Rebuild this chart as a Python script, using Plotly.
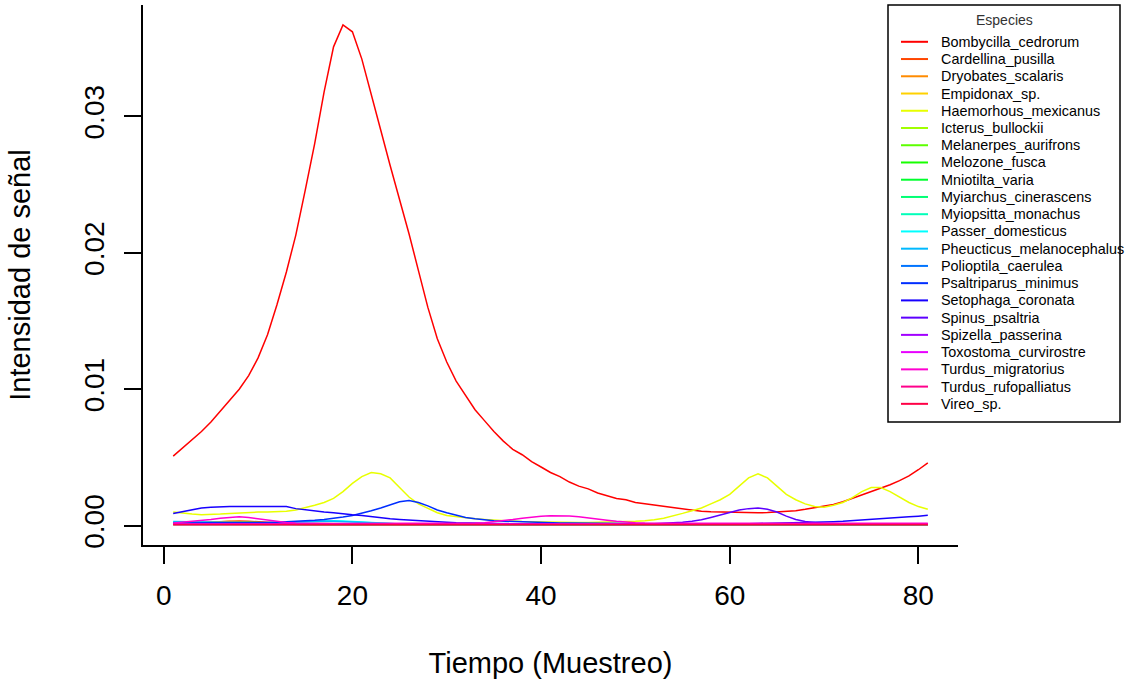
import plotly.graph_objects as go

# ---------------- data ----------------
tiempo = list(range(1, 82))

especies = [
    "Bombycilla_cedrorum", "Cardellina_pusilla", "Dryobates_scalaris", "Empidonax_sp.",
    "Haemorhous_mexicanus", "Icterus_bullockii", "Melanerpes_aurifrons", "Melozone_fusca",
    "Mniotilta_varia", "Myiarchus_cinerascens", "Myiopsitta_monachus", "Passer_domesticus",
    "Pheucticus_melanocephalus", "Polioptila_caerulea", "Psaltriparus_minimus",
    "Setophaga_coronata", "Spinus_psaltria", "Spizella_passerina", "Toxostoma_curvirostre",
    "Turdus_migratorius", "Turdus_rufopalliatus", "Vireo_sp.",
]

colores = [
    "#FF0000", "#FF4600", "#FF8B00", "#FFD100", "#E8FF00", "#A2FF00", "#5DFF00", "#17FF00",
    "#00FF2E", "#00FF74", "#00FFB9", "#00FFFF", "#00B9FF", "#0074FF", "#002EFF", "#1700FF",
    "#5D00FF", "#A200FF", "#E800FF", "#FF00D1", "#FF008B", "#FF0046",
]

UNIDAD = 1e-4  # values below are in units of 1e-4

bombycilla = [51, 57, 63, 69, 76, 84, 92, 100, 110, 123,
              140, 162, 186, 213, 246, 280, 318, 351, 367, 362,
              342, 315, 290, 264, 240, 214, 187, 160, 137, 120,
              106, 95, 85, 77, 69, 62, 56, 52, 47, 43,
              39, 36, 32, 29, 27, 24, 22, 20, 19, 17,
              16, 15, 14, 13, 12, 11, 10.5, 10.2, 10, 9.8,
              9.6, 9.5, 9.5, 9.6, 9.9, 10.4, 11, 12, 13, 14,
              15.5, 17.5, 20, 22, 25, 27.5, 30, 33, 36.5, 41, 46]

cardellina = [1.4, 1.7, 2.1, 2.6, 3.0, 3.3, 3.5, 3.5, 3.2, 2.8,
              2.3, 1.8, 1.4, 1.1, 1.0, 0.9, 0.9, 0.8, 0.8, 0.8,
              0.8, 0.8, 0.8, 0.8, 0.8, 0.7, 0.7, 0.7, 0.7, 0.7,
              0.7, 0.7, 0.7, 0.7, 0.7, 0.7, 0.7, 0.7, 0.7, 0.7,
              0.7, 0.7, 0.7, 0.7, 0.7, 0.7, 0.7, 0.7, 0.7, 0.6,
              0.6, 0.6, 0.6, 0.6, 0.6, 0.6, 0.6, 0.6, 0.6, 0.6,
              0.6, 0.6, 0.6, 0.6, 0.6, 0.6, 0.6, 0.6, 0.6, 0.6,
              0.6, 0.6, 0.6, 0.6, 0.6, 0.6, 0.6, 0.6, 0.6, 0.6, 0.6]

dryobates = [1.2, 1.5, 1.9, 2.4, 2.8, 3.1, 3.2, 3.0, 2.6, 2.1,
             1.6, 1.2, 1.0, 0.8, 0.7, 0.7, 0.6, 0.6, 0.6, 0.6,
             0.6, 0.6, 0.6, 0.6, 0.6, 0.6, 0.6, 0.6, 0.6, 0.6,
             0.6, 0.6, 0.6, 0.6, 0.6, 0.6, 0.6, 0.6, 0.6, 0.6,
             0.6, 0.6, 0.6, 0.6, 0.6, 0.6, 0.6, 0.6, 0.6, 0.6,
             0.5, 0.5, 0.5, 0.5, 0.5, 0.5, 0.5, 0.5, 0.5, 0.5,
             0.5, 0.5, 0.5, 0.5, 0.5, 0.5, 0.5, 0.5, 0.5, 0.5,
             0.5, 0.5, 0.5, 0.5, 0.5, 0.5, 0.5, 0.5, 0.5, 0.5, 0.5]

empidonax = [1.2, 1.2, 1.1, 1.1, 1.1, 1.0, 1.0, 1.0, 1.0, 1.0,
             1.0, 1.0, 1.0, 1.0, 1.0, 1.0, 1.0, 1.0, 1.0, 1.0,
             1.0, 1.0, 1.0, 1.0, 0.9, 0.9, 0.9, 0.9, 0.9, 0.9,
             0.9, 0.9, 0.9, 0.9, 0.9, 0.9, 0.9, 0.9, 0.9, 0.9,
             0.9, 0.9, 0.9, 0.9, 0.9, 0.9, 0.9, 0.9, 0.9, 0.9,
             0.9, 0.9, 0.9, 0.9, 0.9, 0.9, 0.9, 0.9, 0.9, 0.9,
             0.9, 0.9, 0.9, 0.9, 0.9, 0.9, 0.9, 0.9, 0.9, 0.9,
             0.9, 0.9, 0.9, 0.9, 0.9, 0.9, 1.0, 1.0, 1.0, 1.0, 1.0]

haemorhous = [10, 9, 8.5, 8, 8, 8.5, 9, 9.5, 10, 10,
              10, 10, 10.5, 11.5, 13, 15, 17, 20, 25, 31,
              36, 39, 38, 35, 28, 21, 16, 12.5, 9.5, 7.5,
              6.5, 5.8, 5, 4.5, 4, 3.6, 3.3, 3, 2.8, 2.6,
              2.5, 2.4, 2.3, 2.3, 2.3, 2.4, 2.5, 2.7, 3, 3.3,
              3.7, 4.3, 5.5, 7, 9, 11, 13, 16, 19, 23,
              29, 35, 38, 35, 29, 23, 19, 16, 14, 13.5,
              15, 17, 20.5, 25, 28, 28, 25, 21, 17, 14, 12]

icterus = [0.9, 0.9, 0.9, 0.9, 0.9, 0.9, 0.9, 0.9, 0.9, 0.9,
           0.9, 0.9, 0.9, 0.9, 0.9, 0.9, 0.9, 0.9, 0.9, 0.9,
           0.8, 0.8, 0.8, 0.8, 0.8, 0.8, 0.8, 0.8, 0.8, 0.8,
           0.8, 0.8, 0.8, 0.8, 0.8, 0.8, 0.8, 0.8, 0.8, 0.8,
           0.8, 0.8, 0.8, 0.8, 0.8, 0.8, 0.8, 0.8, 0.8, 0.8,
           0.8, 0.8, 0.8, 0.8, 0.8, 0.8, 0.8, 0.8, 0.8, 0.8,
           0.8, 0.8, 0.8, 0.8, 0.8, 0.8, 0.8, 0.8, 0.8, 0.8,
           0.8, 0.8, 0.8, 0.8, 0.8, 0.8, 0.8, 0.8, 0.8, 0.8, 0.8]

melanerpes = [1.0, 1.2, 1.5, 1.8, 2.1, 2.4, 2.6, 2.7, 2.6, 2.3,
              1.9, 1.5, 1.2, 1.0, 0.9, 0.8, 0.8, 0.8, 0.8, 0.8,
              0.8, 0.8, 0.8, 0.8, 0.8, 0.8, 0.8, 0.8, 0.8, 0.8,
              0.7, 0.7, 0.7, 0.7, 0.7, 0.7, 0.7, 0.7, 0.7, 0.7,
              0.7, 0.7, 0.7, 0.7, 0.7, 0.7, 0.7, 0.7, 0.7, 0.7,
              0.7, 0.7, 0.7, 0.7, 0.7, 0.7, 0.7, 0.7, 0.7, 0.7,
              0.7, 0.7, 0.7, 0.7, 0.7, 0.7, 0.7, 0.7, 0.7, 0.7,
              0.7, 0.7, 0.7, 0.7, 0.7, 0.7, 0.7, 0.7, 0.7, 0.7, 0.7]

melozone = [1.0, 1.0, 1.0, 1.0, 1.0, 1.0, 1.0, 1.0, 1.0, 1.0,
            1.0, 1.0, 1.0, 1.0, 1.0, 1.0, 1.0, 1.0, 1.0, 1.0,
            0.9, 0.9, 0.9, 0.9, 0.9, 0.9, 0.9, 0.9, 0.9, 0.9,
            0.9, 0.9, 0.9, 0.9, 0.9, 0.9, 0.9, 0.9, 0.9, 0.9,
            0.9, 0.9, 0.9, 0.9, 0.9, 0.9, 0.9, 0.9, 0.9, 0.9,
            0.9, 0.9, 0.9, 0.9, 0.9, 0.9, 0.9, 0.9, 0.9, 0.9,
            0.9, 0.9, 0.9, 0.9, 0.9, 0.9, 0.9, 0.9, 0.9, 0.9,
            0.9, 0.9, 0.9, 0.9, 0.9, 0.9, 0.9, 0.9, 0.9, 0.9, 0.9]

mniotilta = [1.0, 1.0, 1.0, 1.0, 1.0, 1.0, 1.0, 1.0, 1.0, 1.1,
             1.1, 1.2, 1.3, 1.4, 1.5, 1.6, 1.7, 1.7, 1.6, 1.5,
             1.4, 1.3, 1.2, 1.1, 1.0, 1.0, 1.0, 1.0, 1.0, 1.0,
             1.0, 1.0, 1.0, 1.0, 1.0, 1.0, 1.0, 1.0, 1.0, 1.0,
             1.0, 1.0, 1.0, 1.0, 1.0, 1.0, 1.0, 1.0, 1.0, 1.0,
             1.0, 1.0, 1.0, 1.0, 1.0, 1.0, 1.0, 1.0, 1.0, 1.0,
             1.0, 1.0, 1.0, 1.0, 1.0, 1.0, 1.0, 1.0, 1.0, 1.0,
             1.0, 1.0, 1.0, 1.0, 1.0, 1.0, 1.0, 1.0, 1.0, 1.0, 1.0]

myiarchus = [0.8, 0.8, 0.8, 0.8, 0.8, 0.8, 0.8, 0.8, 0.8, 0.8,
             0.8, 0.8, 0.8, 0.8, 0.8, 0.8, 0.8, 0.8, 0.8, 0.8,
             0.8, 0.8, 0.8, 0.8, 0.8, 0.8, 0.8, 0.8, 0.8, 0.8,
             0.8, 0.8, 0.8, 0.8, 0.8, 0.8, 0.8, 0.8, 0.8, 0.8,
             0.8, 0.8, 0.8, 0.8, 0.8, 0.8, 0.8, 0.8, 0.8, 0.8,
             0.8, 0.8, 0.8, 0.8, 0.8, 0.8, 0.8, 0.8, 0.8, 0.8,
             0.8, 0.8, 0.8, 0.8, 0.8, 0.8, 0.8, 0.8, 0.8, 0.8,
             0.8, 0.8, 0.8, 0.8, 0.8, 0.8, 0.8, 0.8, 0.8, 0.8, 0.8]

myiopsitta = [1.1, 1.1, 1.1, 1.1, 1.1, 1.1, 1.1, 1.1, 1.1, 1.1,
              1.1, 1.1, 1.1, 1.1, 1.1, 1.1, 1.1, 1.1, 1.1, 1.1,
              1.0, 1.0, 1.0, 1.0, 1.0, 1.0, 1.0, 1.0, 1.0, 1.0,
              1.0, 1.0, 1.0, 1.0, 1.0, 1.0, 1.0, 1.0, 1.0, 1.0,
              1.0, 1.0, 1.0, 1.0, 1.0, 1.0, 1.0, 1.0, 1.0, 1.0,
              1.0, 1.0, 1.0, 1.0, 1.0, 1.0, 1.0, 1.0, 1.0, 1.0,
              1.0, 1.0, 1.0, 1.0, 1.0, 1.0, 1.0, 1.0, 1.0, 1.0,
              1.0, 1.0, 1.0, 1.0, 1.0, 1.0, 1.0, 1.0, 1.0, 1.0, 1.0]

passer = [2.5, 2.4, 2.2, 2.0, 1.8, 1.6, 1.5, 1.4, 1.4, 1.5,
          1.7, 2.0, 2.4, 2.8, 3.2, 3.5, 3.7, 3.7, 3.5, 3.1,
          2.6, 2.1, 1.7, 1.4, 1.2, 1.1, 1.0, 1.0, 0.9, 0.9,
          0.9, 0.9, 0.9, 0.9, 0.9, 0.9, 0.9, 0.9, 0.9, 0.9,
          0.9, 0.9, 0.9, 0.9, 0.9, 0.9, 0.9, 0.9, 0.9, 0.9,
          0.9, 0.9, 0.9, 0.9, 0.9, 0.9, 0.9, 0.9, 0.9, 0.9,
          0.9, 0.9, 0.9, 0.9, 0.9, 0.9, 0.9, 0.9, 0.9, 0.9,
          0.9, 0.9, 0.9, 0.9, 0.9, 0.9, 0.9, 0.9, 0.9, 0.9, 0.9]

pheucticus = [3.0, 2.9, 2.7, 2.5, 2.3, 2.1, 2.0, 1.9, 1.9, 2.0,
              2.1, 2.3, 2.6, 2.9, 3.2, 3.4, 3.4, 3.2, 2.9, 2.5,
              2.1, 1.7, 1.4, 1.2, 1.1, 1.0, 1.0, 1.0, 1.0, 1.0,
              1.0, 1.0, 1.0, 1.0, 1.0, 1.0, 1.0, 1.0, 1.0, 1.0,
              1.0, 1.0, 1.0, 1.0, 1.0, 1.0, 1.0, 1.0, 1.0, 1.0,
              1.0, 1.0, 1.0, 1.0, 1.0, 1.0, 1.0, 1.0, 1.0, 1.0,
              1.0, 1.0, 1.0, 1.0, 1.0, 1.0, 1.0, 1.0, 1.0, 1.0,
              1.0, 1.0, 1.0, 1.0, 1.0, 1.0, 1.0, 1.0, 1.0, 1.0, 1.0]

polioptila = [1.6, 1.6, 1.5, 1.5, 1.5, 1.4, 1.4, 1.4, 1.3, 1.3,
              1.3, 1.3, 1.2, 1.2, 1.2, 1.2, 1.2, 1.1, 1.1, 1.1,
              1.1, 1.1, 1.1, 1.0, 1.0, 1.0, 1.0, 1.0, 1.0, 1.0,
              1.0, 1.0, 1.0, 1.0, 1.0, 1.0, 1.0, 1.0, 1.0, 1.0,
              1.0, 1.0, 1.0, 1.0, 1.0, 1.0, 1.0, 1.0, 1.0, 1.0,
              1.0, 1.0, 1.0, 1.0, 1.0, 1.0, 1.0, 1.0, 1.0, 1.0,
              1.0, 1.0, 1.0, 1.0, 1.0, 1.0, 1.0, 1.0, 1.0, 1.0,
              1.0, 1.0, 1.0, 1.0, 1.0, 1.1, 1.1, 1.1, 1.1, 1.2, 1.2]

psaltriparus = [2, 2, 2, 2, 2, 2, 2, 2, 2, 2.2,
                2.4, 2.6, 2.8, 3, 3.4, 3.9, 4.5, 5.3, 6.3, 7.5,
                9, 11, 13, 15, 17.5, 18.5, 17, 14.5, 11.5, 9.5,
                7.5, 6, 5, 4.2, 3.7, 3.3, 3, 2.7, 2.5, 2.3,
                2.2, 2, 1.9, 1.8, 1.7, 1.6, 1.5, 1.5, 1.4, 1.4,
                1.4, 1.4, 1.4, 1.4, 1.4, 1.4, 1.4, 1.4, 1.4, 1.4,
                1.4, 1.4, 1.4, 1.4, 1.4, 1.4, 1.4, 1.4, 1.4, 1.4,
                1.4, 1.4, 1.4, 1.4, 1.4, 1.4, 1.4, 1.4, 1.4, 1.4, 1.4]

setophaga = [9, 10.5, 12, 13, 13.5, 14, 14, 14, 14, 14,
             14.5, 14.5, 14, 12.5, 11.5, 10.5, 10, 9.5, 8.5, 8,
             7.5, 6.5, 5.5, 5, 4.5, 4, 3.5, 3, 2.7, 2.5,
             2.2, 2, 1.8, 1.6, 1.5, 1.4, 1.3, 1.2, 1.1, 1,
             1, 1, 1, 1, 1, 1, 1, 1, 1, 1,
             1, 1, 1, 1, 1, 1, 1, 1.1, 1.2, 1.3,
             1.4, 1.5, 1.6, 1.7, 1.8, 1.9, 2, 2.2, 2.4, 2.6,
             2.9, 3.2, 3.6, 4.1, 4.6, 5, 5.5, 6, 6.5, 7, 7.6]

spinus = [1.5, 1.5, 1.5, 1.5, 1.5, 1.4, 1.4, 1.3, 1.3, 1.2,
          1.2, 1.2, 1.2, 1.1, 1.1, 1.1, 1.1, 1.1, 1.1, 1.1,
          1.0, 1.0, 1.0, 1.0, 1.0, 1.0, 1.0, 1.0, 1.0, 1.0,
          1.0, 1.0, 1.0, 1.0, 1.0, 1.0, 1.0, 1.0, 1.0, 1.0,
          1.0, 1.0, 1.0, 1.0, 1.0, 1.0, 1.0, 1.0, 1.0, 1.0,
          1.2, 1.4, 1.7, 2, 2.6, 3.3, 4.3, 6, 8, 10,
          11.5, 12.5, 13, 12, 10, 7, 4.5, 3, 2, 1.5,
          1.2, 1.1, 1, 1, 1, 1, 1, 1, 1, 1, 1]

spizella = [0.8, 0.8, 0.8, 0.8, 0.8, 0.8, 0.8, 0.8, 0.8, 0.8,
            0.8, 0.8, 0.8, 0.8, 0.8, 0.8, 0.8, 0.8, 0.8, 0.8,
            0.8, 0.8, 0.8, 0.8, 0.8, 0.8, 0.8, 0.8, 0.8, 0.8,
            0.8, 0.8, 0.8, 0.8, 0.8, 0.8, 0.8, 0.8, 0.8, 0.8,
            0.8, 0.8, 0.8, 0.8, 0.8, 0.8, 0.8, 0.8, 0.8, 0.8,
            0.8, 0.8, 0.8, 0.8, 0.8, 0.8, 0.8, 0.8, 0.8, 0.8,
            0.8, 0.8, 0.8, 0.8, 0.8, 0.8, 0.8, 0.8, 0.8, 0.8,
            0.8, 0.8, 0.8, 0.8, 0.8, 0.8, 0.8, 0.8, 0.8, 0.8, 0.8]

toxostoma = [1.3, 1.3, 1.3, 1.3, 1.3, 1.3, 1.3, 1.3, 1.3, 1.3,
             1.3, 1.3, 1.2, 1.2, 1.2, 1.2, 1.2, 1.2, 1.2, 1.2,
             1.2, 1.2, 1.2, 1.2, 1.2, 1.2, 1.2, 1.2, 1.2, 1.2,
             1.2, 1.2, 1.2, 1.2, 1.2, 1.2, 1.2, 1.2, 1.2, 1.2,
             1.2, 1.2, 1.2, 1.2, 1.2, 1.2, 1.2, 1.2, 1.2, 1.2,
             1.2, 1.2, 1.2, 1.2, 1.2, 1.2, 1.2, 1.2, 1.2, 1.2,
             1.2, 1.2, 1.2, 1.2, 1.2, 1.2, 1.2, 1.2, 1.2, 1.2,
             1.2, 1.2, 1.2, 1.2, 1.2, 1.2, 1.2, 1.2, 1.2, 1.2, 1.2]

turdus_migratorius = [2, 2.5, 3, 3.5, 4.5, 5.5, 6, 6.5, 6, 5,
                      4, 3, 2.3, 2, 1.8, 1.7, 1.6, 1.6, 1.6, 1.6,
                      1.6, 1.6, 1.6, 1.6, 1.6, 1.6, 1.6, 1.6, 1.6, 1.6,
                      1.6, 1.7, 1.9, 2.2, 2.8, 3.6, 4.5, 5.5, 6.3, 6.9,
                      7.2, 7.3, 7.1, 6.6, 5.9, 5, 4, 3.2, 2.5, 2.1,
                      1.9, 1.8, 1.8, 1.8, 1.8, 1.8, 1.8, 1.8, 1.8, 1.8,
                      1.8, 1.8, 1.8, 1.8, 1.8, 1.8, 1.8, 1.8, 1.8, 1.8,
                      1.8, 1.8, 1.8, 1.8, 1.8, 1.8, 1.8, 1.8, 1.8, 1.8, 1.8]

turdus_rufopalliatus = [1.0, 1.0, 1.0, 1.0, 1.0, 1.0, 1.0, 1.0, 1.0, 1.0,
                        1.0, 1.0, 1.0, 1.0, 1.0, 1.0, 1.0, 1.0, 1.0, 1.0,
                        1.0, 1.0, 1.0, 1.0, 1.0, 1.0, 1.0, 1.0, 1.0, 1.0,
                        1.0, 1.0, 1.0, 1.0, 1.0, 1.0, 1.0, 1.0, 1.0, 1.0,
                        1.0, 1.0, 1.0, 1.0, 1.0, 1.0, 1.0, 1.0, 1.0, 1.0,
                        1.0, 1.0, 1.0, 1.0, 1.0, 1.0, 1.0, 1.0, 1.0, 1.0,
                        1.0, 1.0, 1.0, 1.0, 1.0, 1.0, 1.0, 1.0, 1.0, 1.0,
                        1.0, 1.0, 1.0, 1.0, 1.0, 1.0, 1.0, 1.0, 1.0, 1.0, 1.0]

vireo = [0.6, 0.6, 0.6, 0.6, 0.6, 0.6, 0.6, 0.6, 0.6, 0.6,
         0.6, 0.6, 0.6, 0.6, 0.6, 0.6, 0.6, 0.6, 0.6, 0.6,
         0.6, 0.6, 0.6, 0.6, 0.6, 0.6, 0.6, 0.6, 0.6, 0.6,
         0.6, 0.6, 0.6, 0.6, 0.6, 0.6, 0.6, 0.6, 0.6, 0.6,
         0.6, 0.6, 0.6, 0.6, 0.6, 0.6, 0.6, 0.6, 0.6, 0.6,
         0.6, 0.6, 0.6, 0.6, 0.6, 0.6, 0.6, 0.6, 0.6, 0.6,
         0.6, 0.6, 0.6, 0.6, 0.6, 0.6, 0.6, 0.6, 0.6, 0.6,
         0.6, 0.6, 0.6, 0.6, 0.6, 0.6, 0.6, 0.6, 0.6, 0.6, 0.6]

series = [bombycilla, cardellina, dryobates, empidonax, haemorhous, icterus,
          melanerpes, melozone, mniotilta, myiarchus, myiopsitta, passer,
          pheucticus, polioptila, psaltriparus, setophaga, spinus, spizella,
          toxostoma, turdus_migratorius, turdus_rufopalliatus, vireo]

x_ticks = [0, 20, 40, 60, 80]
y_ticks = [0.00, 0.01, 0.02, 0.03]

# ---------------- layout geometry ----------------
W, H = 1126, 682
ML, MR, MT, MB = 143, 168, 5, 137
PW, PH = W - ML - MR, H - MT - MB


def px(xp):
    return (xp - ML) / PW


def py(yp):
    return (H - MB - yp) / PH


FONT = "Liberation Sans, Arial, sans-serif"

fig = go.Figure()
all_y = []
for nombre, color, vals in zip(especies, colores, series):
    yv = [v * UNIDAD for v in vals]
    all_y.extend(yv)
    fig.add_trace(go.Scatter(x=tiempo, y=yv, mode="lines", name=nombre,
                             line=dict(color=color, width=1.5), showlegend=False))

# R-style 4% padding of axis ranges
xmin, xmax = min(tiempo), max(tiempo)
ymin, ymax = min(all_y), max(all_y)
xpad = 0.04 * (xmax - xmin)
ypad = 0.04 * (ymax - ymin)

axis_common = dict(showgrid=False, zeroline=False, showline=True, linecolor="black",
                   linewidth=1.5, ticks="outside", ticklen=17, tickwidth=1.5,
                   tickcolor="black", tickfont=dict(family=FONT, size=28, color="black"),
                   mirror=False)

fig.update_xaxes(range=[xmin - xpad, xmax + xpad], tickvals=x_ticks,
                 ticklabelstandoff=8,
                 title=dict(text="Tiempo (Muestreo)", standoff=42,
                            font=dict(family=FONT, size=29, color="black")),
                 **axis_common)
fig.update_yaxes(range=[ymin - ypad, ymax + ypad], tickvals=y_ticks, tickformat=".2f",
                 tickangle=-90, ticklabelstandoff=9,
                 title=dict(text="Intensidad de señal", standoff=40,
                            font=dict(family=FONT, size=29, color="black")),
                 **axis_common)

# ---------------- legend (R style box) ----------------
shapes = [dict(type="rect", xref="paper", yref="paper",
               x0=px(888), x1=px(1120), y0=py(422), y1=py(5),
               line=dict(color="black", width=1.5), fillcolor="white", layer="above")]
annotations = [dict(text="Especies", xref="paper", yref="paper", x=px(1004.5), y=py(19.5),
                    xanchor="center", yanchor="middle", showarrow=False,
                    font=dict(family=FONT, size=14, color="#333333"))]
for i, (nombre, color) in enumerate(zip(especies, colores)):
    yy = 41.8 + i * 17.24
    shapes.append(dict(type="line", xref="paper", yref="paper",
                       x0=px(901), x1=px(928), y0=py(yy), y1=py(yy),
                       line=dict(color=color, width=2), layer="above"))
    annotations.append(dict(text=nombre, xref="paper", yref="paper", x=px(939), y=py(yy),
                            xanchor="left", yanchor="middle", showarrow=False,
                            font=dict(family=FONT, size=14.4, color="black")))

fig.update_layout(width=W, height=H, margin=dict(l=ML, r=MR, t=MT, b=MB),
                  plot_bgcolor="white", paper_bgcolor="white",
                  shapes=shapes, annotations=annotations, showlegend=False)

fig.write_html("out.html")
